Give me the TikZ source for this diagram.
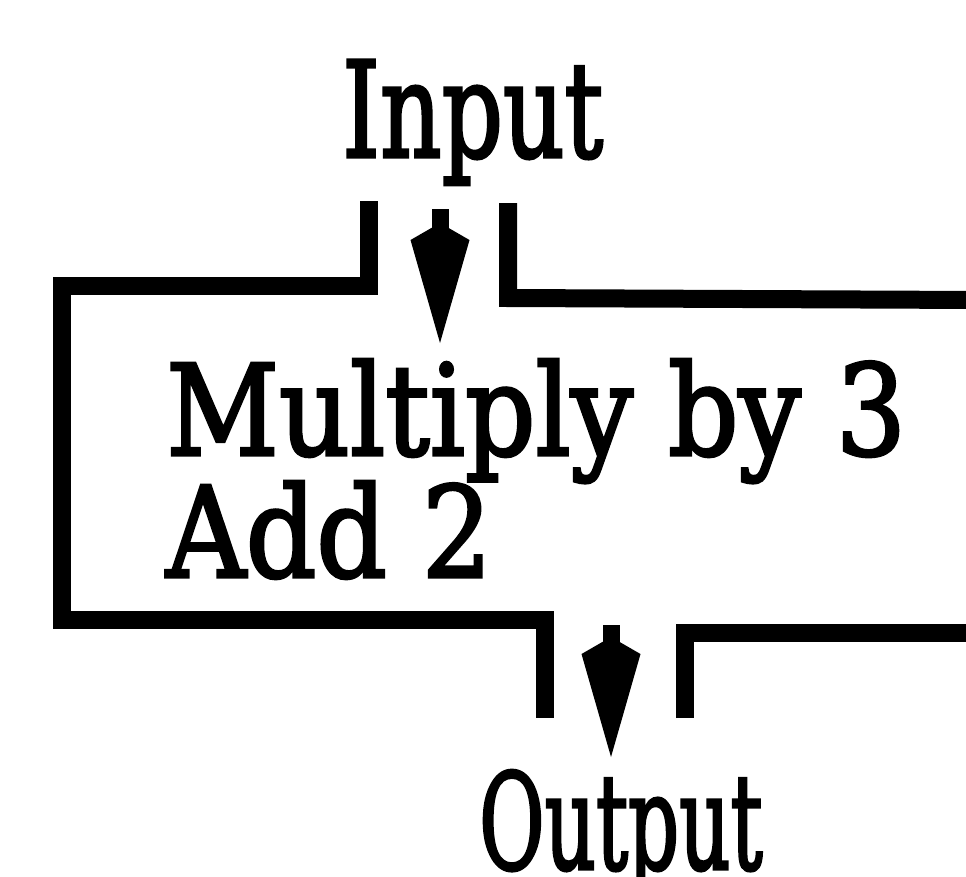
\documentclass[tikz,border=0pt]{standalone}
\usepackage{fontspec}
\setmainfont{DejaVu Serif}[FakeBold=2.5]
\usetikzlibrary{arrows.meta}
\begin{document}
\begin{tikzpicture}[x=1pt,y=-1pt,
  wall/.style={line width=18pt, line join=miter, line cap=butt},
  flow/.style={line width=17pt, -{Kite[length=120pt,width=59pt,inset=17pt,line width=0pt]}},
  lbl/.style={inner sep=0pt, anchor=base west, font=\fontsize{126pt}{126pt}\selectfont},
  io/.style={inner sep=0pt, anchor=base west, font=\fontsize{133pt}{133pt}\selectfont}]
\useasboundingbox (0,0) rectangle (966,876);
\clip (0,0) rectangle (966,876);
% texts
\node[io] (in) at (342,157) {\scalebox{0.72}[1]{Input}};
\node[lbl] (proc1) at (166,455) {\scalebox{0.875}[1]{Multiply by 3}};
\node[lbl] (proc2) at (166,577) {\scalebox{0.875}[1]{Add 2}};
\node[io] (out) at (479,869) {\scalebox{0.6}[1]{Output}};
% walls of the box
\draw[wall] (369,201) -- (369,286) -- (62,286) -- (62,620) -- (545,620) -- (545,718);
\draw[wall] (508,203) -- (508,298) -- (980,300);
\draw[wall] (685,718) -- (685,633) -- (980,633);
% arrows
\coordinate (inTail) at (440,209);
\coordinate (inHead) at (440,343);
\coordinate (outTail) at (611,625);
\coordinate (outHead) at (611,757);
\draw[flow] (inTail) -- (inHead);
\draw[flow] (outTail) -- (outHead);
\end{tikzpicture}
\end{document}
